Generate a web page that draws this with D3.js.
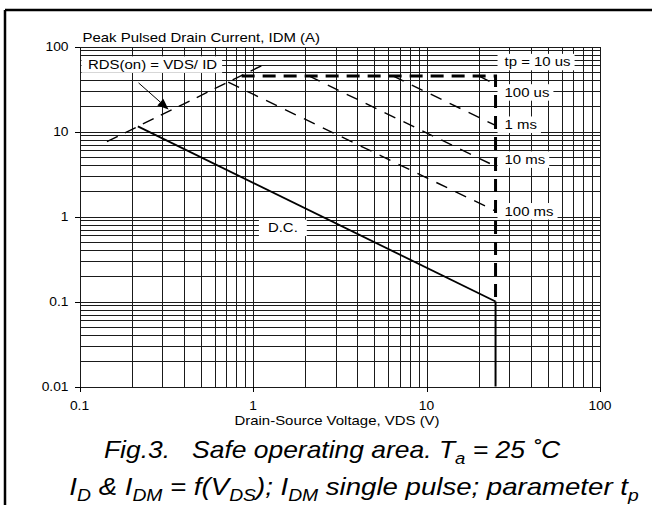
<!DOCTYPE html>
<html><head><meta charset="utf-8">
<script src="https://cdn.jsdelivr.net/npm/d3@7/dist/d3.min.js"></script>
<style>html,body{margin:0;padding:0;background:#fff} text{white-space:pre}</style>
</head><body>
<svg id="chart" width="652" height="505"></svg>
<script>
// ---- data ----
const xTickValues = [0.1, 1, 10, 100];
const xTickLabels = ["0.1", "1", "10", "100"];
const yTickValues = [0.01, 0.1, 1, 10, 100];
const yTickLabels = ["0.01", "0.1", "1", "10", "100"];

const rdsV = [0.144, 1.13];   const rdsI = [7.6, 60];
const tp10usV = [0.86, 25, 25]; const tp10usI = [45, 45, 0.1];
const vmaxV = [25, 25];       const vmaxI = [0.1, 0.01];
const tp100usV = [20, 25];    const tp100usI = [45, 36];
const tp1msV = [6.4, 25];     const tp1msI = [45, 11.8];
const tp10msV = [2.1, 25];    const tp10msI = [45, 3.9];
const tp100msV = [0.72, 25];  const tp100msI = [38, 1.16];
const dcV = [0.217, 25];      const dcI = [11.5, 0.1];

const curveLabels = ["tp = 10 us", "100 us", "1 ms", "10 ms", "100 ms"];
const curveLabelI = [66, 29, 12.1, 4.7, 1.16];
const arrowV = [0.219, 0.326]; const arrowI = [37.3, 18.2];

// ---- layout ----
const SX = 1.15;
const svg = d3.select("#chart");
const x = d3.scaleLog().domain([0.1, 100]).range([79.5, 600]);
const y = d3.scaleLog().domain([0.01, 100]).range([386.5, 46.5]);
const font = "'Liberation Sans', Arial, sans-serif";

function txt(g, px, py, size, anchor, parts, italic, sx) {
  sx = sx || SX;
  const t = g.append("text")
    .attr("transform", `translate(${px},${py}) scale(${sx},1)`)
    .attr("text-anchor", anchor)
    .attr("font-family", font)
    .attr("font-size", size)
    .attr("font-style", italic ? "italic" : "normal")
    .attr("xml:space", "preserve")
    .attr("fill", "#000");
  if (typeof parts === "string") parts = [[parts, 0]];
  let cur = 0;
  parts.forEach(([s, sub]) => {
    const ts = t.append("tspan").text(s);
    if (sub !== cur) {
      ts.attr("dy", sub ? size * 0.28 : -size * 0.28);
    }
    if (sub) ts.attr("font-size", size * 0.7);
    cur = sub;
  });
  return t;
}

// frame
svg.append("line").attr("x1", 5).attr("x2", 652).attr("y1", 10).attr("y2", 10).attr("stroke", "#000").attr("stroke-width", 2.5);
svg.append("line").attr("x1", 5).attr("x2", 5).attr("y1", 10).attr("y2", 505).attr("stroke", "#000").attr("stroke-width", 2.5);

// grid
const gx = [], gy = [];
[0.1, 1, 10].forEach(d => { for (let k = 1; k < 10; k++) gx.push(d * k); });
gx.push(100);
[0.01, 0.1, 1, 10].forEach(d => { for (let k = 1; k < 10; k++) gy.push(d * k); });
gy.push(100);
const grid = svg.append("g").attr("stroke", "#1a1a1a").attr("stroke-width", 1).attr("shape-rendering", "crispEdges");
grid.selectAll(".gv").data(gx).enter().append("line")
  .attr("x1", d => Math.round(x(d)) + 0.5).attr("x2", d => Math.round(x(d)) + 0.5)
  .attr("y1", y(100)).attr("y2", y(0.01));
grid.selectAll(".gh").data(gy).enter().append("line")
  .attr("y1", d => Math.round(y(d)) + 0.5).attr("y2", d => Math.round(y(d)) + 0.5)
  .attr("x1", x(0.1)).attr("x2", x(100));

// axes ticks
const ax = svg.append("g").attr("stroke", "#000").attr("stroke-width", 1).attr("shape-rendering", "crispEdges");
ax.selectAll(".ty").data(yTickValues).enter().append("line")
  .attr("x1", x(0.1) - 5).attr("x2", x(0.1))
  .attr("y1", d => Math.round(y(d)) + 0.5).attr("y2", d => Math.round(y(d)) + 0.5);
ax.selectAll(".tx").data(xTickValues).enter().append("line")
  .attr("x1", d => Math.round(x(d)) + 0.5).attr("x2", d => Math.round(x(d)) + 0.5)
  .attr("y1", y(0.01)).attr("y2", y(0.01) + 5);

yTickValues.forEach((v, i) => txt(svg, x(0.1) - 11, y(v) + 4.3, 12, "end", yTickLabels[i]));
xTickValues.forEach((v, i) => txt(svg, x(v), 410, 12, "middle", xTickLabels[i]));

txt(svg, 337, 425, 13, "middle", "Drain-Source Voltage, VDS (V)");
txt(svg, 82.5, 41.7, 13, "start", "Peak Pulsed Drain Current, IDM (A)");

// curves
const line = d3.line().x(d => x(d[0])).y(d => y(d[1]));
const zip = (a, b) => a.map((v, i) => [v, b[i]]);
function drawCurve(V, I, w, dash) {
  svg.append("path").datum(zip(V, I)).attr("d", line)
    .attr("fill", "none").attr("stroke", "#000").attr("stroke-width", w)
    .attr("stroke-dasharray", dash || null);
}
drawCurve(rdsV, rdsI, 1.4, "12,8");
drawCurve(tp100usV, tp100usI, 1.4, "12,9");
drawCurve(tp1msV, tp1msI, 1.4, "12,9");
drawCurve(tp10msV, tp10msI, 1.4, "12,9");
drawCurve(tp100msV, tp100msI, 1.4, "12,9");
drawCurve(dcV, dcI, 1.8, null);
drawCurve(tp10usV, tp10usI, 3, "13,8");
drawCurve(vmaxV, vmaxI, 2, null);

// label boxes
function boxLabel(px, pyCenter, str, anchor, pad) {
  const g = svg.append("g");
  const t = txt(g, px, pyCenter + 4.6, 13, anchor, str);
  const w = t.node().getComputedTextLength() * SX;
  let x0 = anchor === "middle" ? px - w / 2 : px;
  g.insert("rect", "text").attr("x", x0 - pad[0]).attr("y", pyCenter - 8)
    .attr("width", w + pad[0] + pad[1]).attr("height", 16.5).attr("fill", "#fff");
}
curveLabels.forEach((s, i) => boxLabel(x(25) + 9, y(curveLabelI[i]), s, "start", [7, 4]));
boxLabel(x(0.1) + 8.5, y(61.7), "RDS(on) = VDS/ ID", "start", [6.5, 5]);
boxLabel(x(1.486), y(0.74), "D.C.", "middle", [9, 9]);

// arrow
const a0 = [x(arrowV[0]), y(arrowI[0])], a1 = [x(arrowV[1]), y(arrowI[1])];
const ang = Math.atan2(a1[1] - a0[1], a1[0] - a0[0]);
const hl = 11, hw = 4.5;
const bx = a1[0] - hl * Math.cos(ang), by = a1[1] - hl * Math.sin(ang);
svg.append("line").attr("x1", a0[0]).attr("y1", a0[1]).attr("x2", bx).attr("y2", by)
  .attr("stroke", "#000").attr("stroke-width", 1);
svg.append("path").attr("d", `M${a1[0]},${a1[1]} L${bx - hw * Math.sin(ang)},${by + hw * Math.cos(ang)} L${bx + hw * Math.sin(ang)},${by - hw * Math.cos(ang)} Z`)
  .attr("fill", "#000");

// caption
txt(svg, 332, 458, 23, "middle", [["Fig.3.   Safe operating area. T", 0], ["a", 1], [" = 25 ˚C", 0]], true);
txt(svg, 354, 495, 23, "middle", [["I", 0], ["D", 1], [" & I", 0], ["DM", 1], [" = f(V", 0], ["DS", 1], ["); I", 0], ["DM", 1], [" single pulse; parameter t", 0], ["p", 1]], true, 1.2);
</script>
</body></html>
